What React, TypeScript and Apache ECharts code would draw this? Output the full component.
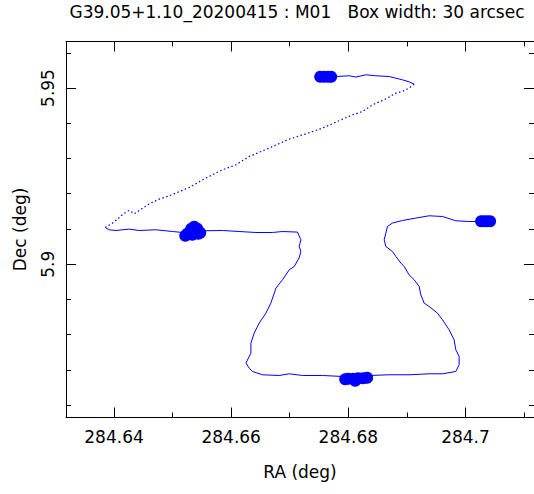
import React, { useEffect, useRef } from "react";
import * as echarts from "echarts";

const TITLE = "G39.05+1.10_20200415 : M01   Box width: 30 arcsec";
const X_NAME = "RA (deg)";
const Y_NAME = "Dec (deg)";

const X_MIN = 284.6318;
const X_MAX = 284.7117;
const Y_MIN = 5.8565;
const Y_MAX = 5.9632;

const X_MAJOR_TICKS = [284.64, 284.66, 284.68, 284.7];
const X_MINOR_TICKS = [284.65, 284.67, 284.69, 284.71];
const Y_MAJOR_TICKS = [5.9, 5.95];
const Y_MINOR_TICKS = [5.86, 5.87, 5.88, 5.89, 5.91, 5.92, 5.93, 5.94, 5.96];

// scan track (RA, Dec) in order
const RA_PATH = [
  284.67468, 284.67788, 284.68015, 284.68129, 284.683, 284.6847, 284.68697, 284.68924, 284.69038, 284.69124,
  284.69038, 284.68924, 284.68812, 284.68697, 284.68583, 284.68412, 284.68242, 284.68071, 284.67559, 284.67276,
  284.66991, 284.66649, 284.66308, 284.66081, 284.65852, 284.65569, 284.65284, 284.64943, 284.64772, 284.64602,
  284.64346, 284.6426, 284.64204, 284.64119, 284.64061, 284.63975, 284.63851, 284.63919, 284.64033, 284.6426,
  284.64431, 284.64716, 284.64999, 284.6517, 284.65352, 284.6554, 284.65852, 284.66137, 284.66422, 284.66706,
  284.66876, 284.67132, 284.6719, 284.67161, 284.6719, 284.67161, 284.67076, 284.66991, 284.66876, 284.66764,
  284.66678, 284.66593, 284.66479, 284.66393, 284.66337, 284.66337, 284.66252, 284.66308, 284.66364, 284.66535,
  284.6682, 284.66991, 284.67218, 284.67559, 284.679, 284.68134, 284.68356, 284.68697, 284.69038, 284.6938,
  284.69607, 284.69835, 284.69892, 284.69892, 284.69835, 284.69806, 284.69721, 284.69607, 284.69521, 284.6938,
  284.69294, 284.69238, 284.69209, 284.69124, 284.69038, 284.68953, 284.68897, 284.68812, 284.68753, 284.68641,
  284.68612, 284.68641, 284.68668, 284.68753, 284.68924, 284.69153, 284.6938, 284.69607, 284.69835, 284.70062,
  284.70204, 284.70352,
];
const DEC_PATH = [
  5.95347, 5.95327, 5.95347, 5.9531, 5.95375, 5.95347, 5.95327, 5.95233, 5.95176, 5.95111,
  5.94998, 5.94901, 5.94856, 5.94742, 5.94646, 5.94524, 5.94334, 5.9424, 5.93863, 5.93701,
  5.9355, 5.93295, 5.93057, 5.92821, 5.92679, 5.92444, 5.92177, 5.91941, 5.91848, 5.91714,
  5.91431, 5.91524, 5.91479, 5.91374, 5.9128, 5.91167, 5.91042, 5.90977, 5.90957, 5.90996,
  5.90957, 5.90977, 5.90928, 5.909, 5.90948, 5.90948, 5.90957, 5.90928, 5.909, 5.909,
  5.90928, 5.90911, 5.90693, 5.90503, 5.90361, 5.90182, 5.89935, 5.89842, 5.89558, 5.89322,
  5.88897, 5.88613, 5.88329, 5.88045, 5.87762, 5.87478, 5.87194, 5.87052, 5.86956, 5.86862,
  5.86842, 5.8689, 5.86842, 5.86842, 5.86814, 5.86748, 5.86842, 5.86862, 5.86862, 5.8689,
  5.8689, 5.86956, 5.87146, 5.87381, 5.87571, 5.87855, 5.88139, 5.88423, 5.88613, 5.888,
  5.88897, 5.89132, 5.89368, 5.89558, 5.897, 5.89935, 5.90032, 5.90219, 5.90361, 5.90503,
  5.90693, 5.90883, 5.9107, 5.91167, 5.91241, 5.91309, 5.91374, 5.91354, 5.91232, 5.91212,
  5.91212, 5.91218,
];

// dense dwell samples at the four pointing positions
const RA_DWELL = [
  284.6752, 284.67588, 284.67656, 284.67707,
  284.65369, 284.65318, 284.65421, 284.6525, 284.65335, 284.65438, 284.65216, 284.65472,
  284.67997, 284.68083, 284.68168, 284.68253, 284.68322, 284.68117, 284.67946,
  284.70267, 284.70318, 284.7037, 284.70421,
];
const DEC_DWELL = [
  5.95318, 5.95318, 5.95318, 5.95318,
  5.91062, 5.91005, 5.91005, 5.90863, 5.90835, 5.90863, 5.90806, 5.90892,
  5.86748, 5.86748, 5.86763, 5.86763, 5.86777, 5.86692, 5.86734,
  5.91218, 5.91218, 5.91218, 5.91218,
];

const FONT = "DejaVu Sans";
const BLUE = "#0000ff";

function xAxisDef(position: string, ticks: number[], len: number, showLine: boolean, withLabels: boolean) {
  return {
    type: "value",
    position,
    min: X_MIN,
    max: X_MAX,
    axisLine: { show: showLine, onZero: false, lineStyle: { color: "#000", width: 1 } },
    axisTick: { show: true, inside: true, length: len, customValues: ticks, lineStyle: { color: "#000", width: 1 } },
    axisLabel: withLabels
      ? {
          show: true,
          customValues: ticks,
          margin: 11,
          color: "#000",
          fontFamily: FONT,
          fontSize: 17,
          formatter: (v: number) => String(parseFloat(Number(v).toFixed(4))),
        }
      : { show: false },
    splitLine: { show: false },
    ...(withLabels
      ? {
          name: X_NAME,
          nameLocation: "middle",
          nameGap: 46,
          nameTextStyle: { color: "#000", fontFamily: FONT, fontSize: 17 },
        }
      : {}),
  };
}

function yAxisDef(position: string, ticks: number[], len: number, showLine: boolean, withLabels: boolean) {
  return {
    type: "value",
    position,
    min: Y_MIN,
    max: Y_MAX,
    axisLine: { show: showLine, onZero: false, lineStyle: { color: "#000", width: 1 } },
    axisTick: { show: true, inside: true, length: len, customValues: ticks, lineStyle: { color: "#000", width: 1 } },
    axisLabel: withLabels
      ? {
          show: true,
          customValues: ticks,
          rotate: 90,
          margin: 10,
          color: "#000",
          fontFamily: FONT,
          fontSize: 17,
          formatter: (v: number) => String(parseFloat(Number(v).toFixed(4))),
        }
      : { show: false },
    splitLine: { show: false },
    ...(withLabels
      ? {
          name: Y_NAME,
          nameLocation: "middle",
          nameGap: 38,
          nameTextStyle: { color: "#000", fontFamily: FONT, fontSize: 17 },
        }
      : {}),
  };
}

export default function App() {
  const ref = useRef<HTMLDivElement>(null);

  useEffect(() => {
    if (!ref.current) return;
    const chart = echarts.init(ref.current, undefined, { renderer: "svg" });

    const path = RA_PATH.map((ra, i) => [ra, DEC_PATH[i]]);
    const dwell = RA_DWELL.map((ra, i) => [ra, DEC_DWELL[i]]);

    const lineBase = {
      type: "line",
      symbol: "none",
      showSymbol: false,
      xAxisIndex: 0,
      yAxisIndex: 0,
      silent: true,
    };

    chart.setOption({
      animation: false,
      backgroundColor: "#ffffff",
      grid: { left: 66, top: 41.5, width: 469.5, height: 376, containLabel: false },
      graphic: [
        {
          type: "text",
          x: 297,
          y: 3,
          style: {
            text: TITLE,
            fill: "#000",
            fontFamily: FONT,
            fontSize: 17,
            align: "center",
            verticalAlign: "top",
          },
        },
      ],
      xAxis: [
        xAxisDef("bottom", X_MAJOR_TICKS, 10, true, true),
        xAxisDef("bottom", X_MINOR_TICKS, 5, false, false),
        xAxisDef("top", X_MAJOR_TICKS, 10, true, false),
        xAxisDef("top", X_MINOR_TICKS, 5, false, false),
      ],
      yAxis: [
        yAxisDef("left", Y_MAJOR_TICKS, 10, true, true),
        yAxisDef("left", Y_MINOR_TICKS, 5, false, false),
        yAxisDef("right", Y_MAJOR_TICKS, 10, true, false),
        yAxisDef("right", Y_MINOR_TICKS, 5, false, false),
      ],
      series: [
        { ...lineBase, name: "track1", data: path.slice(0, 10), lineStyle: { color: BLUE, width: 1 } },
        {
          ...lineBase,
          name: "track2",
          data: path.slice(9, 37),
          lineStyle: { color: BLUE, width: 1.2, type: [1.5, 2.5] },
        },
        { ...lineBase, name: "track3", data: path.slice(36), lineStyle: { color: BLUE, width: 1 } },
        {
          type: "scatter",
          name: "dwell",
          data: dwell,
          symbol: "circle",
          symbolSize: 12,
          itemStyle: { color: BLUE, opacity: 1 },
          silent: true,
        },
      ],
    });

    return () => chart.dispose();
  }, []);

  return (
    <div
      ref={ref}
      style={{ position: "absolute", left: 0, top: 0, width: 534, height: 494, background: "#fff", overflow: "hidden" }}
    />
  );
}
